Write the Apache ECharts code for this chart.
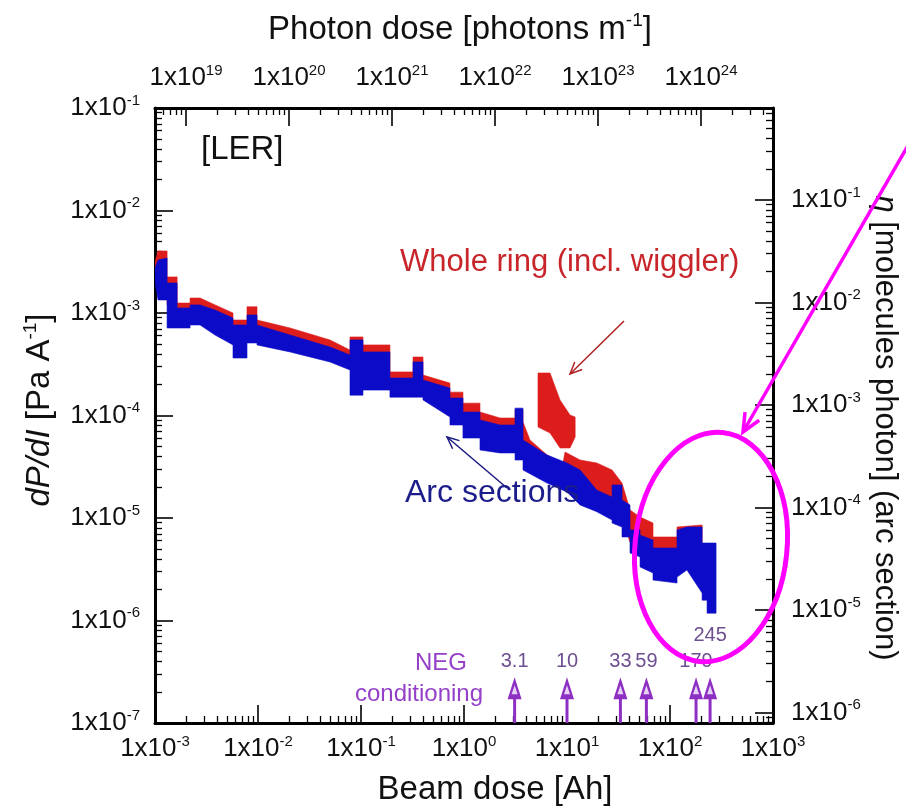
<!DOCTYPE html>
<html>
<head>
<meta charset="utf-8">
<script src="https://cdn.jsdelivr.net/npm/echarts@6/dist/echarts.min.js"></script>
<style>
  html, body { margin: 0; padding: 0; background: #fff; }
  #chart { width: 906px; height: 807px; }
</style>
</head>
<body>
<div id="chart"></div>
<script>
// Decade exponents that carry a tick label on each axis
const beamExp = [-3, -2, -1, 0, 1, 2, 3];
const photonExp = [19, 20, 21, 22, 23, 24];
const dpdiExp = [-7, -6, -5, -4, -3, -2, -1];
const etaExp = [-6, -5, -4, -3, -2, -1];

// Arc sections: beam dose [Ah] with upper / lower envelope of dP/dI [Pa/A]
const arcDose = [1.0e-3, 1.07e-3, 1.31e-3, 1.31e-3, 1.64e-3, 1.64e-3, 2.19e-3, 2.19e-3, 2.74e-3, 3.83e-3,
  5.72e-3, 5.72e-3, 7.82e-3, 7.82e-3, 9.78e-3, 9.78e-3, 0.0205, 0.050, 0.0782, 0.0782,
  0.1045, 0.1045, 0.191, 0.191, 0.320, 0.320, 0.400, 0.400, 0.731, 0.731,
  0.977, 0.977, 1.43, 1.43, 2.24, 3.13, 3.13, 3.74, 3.74, 6.40,
  10.0, 13.4, 19.5, 27.4, 27.4, 34.2, 34.2, 40.9, 40.9, 51.2,
  51.2, 68.4, 68.4, 117, 117, 146, 205, 205, 229, 229, 280];
const arcHigh = [2.75e-3, 3.29e-3, 3.44e-3, 1.96e-3, 1.96e-3, 1.12e-3, 1.12e-3, 1.20e-3, 1.20e-3, 1.07e-3,
  8.93e-4, 7.64e-4, 7.64e-4, 9.56e-4, 9.56e-4, 7.64e-4, 6.09e-4, 4.66e-4, 3.89e-4, 5.46e-4,
  5.46e-4, 4.17e-4, 4.17e-4, 2.32e-4, 2.32e-4, 3.33e-4, 3.33e-4, 2.22e-4, 1.85e-4, 1.48e-4,
  1.48e-4, 1.08e-4, 1.08e-4, 9.04e-5, 8.08e-5, 8.08e-5, 1.18e-4, 1.18e-4, 5.77e-5, 4.12e-5,
  3.44e-5, 2.94e-5, 1.87e-5, 1.60e-5, 2.10e-5, 2.10e-5, 1.50e-5, 1.34e-5, 7.64e-6, 7.64e-6,
  6.82e-6, 6.10e-6, 5.10e-6, 5.10e-6, 7.64e-6, 8.17e-6, 8.17e-6, 5.70e-6, 5.70e-6, 5.70e-6, 5.70e-6];
const arcLow = [2.01e-3, 1.34e-3, 1.34e-3, 7.14e-4, 7.14e-4, 7.14e-4, 7.14e-4, 7.64e-4, 7.64e-4, 6.09e-4,
  4.88e-4, 3.64e-4, 3.64e-4, 5.10e-4, 5.10e-4, 4.88e-4, 4.17e-4, 3.33e-4, 2.78e-4, 1.58e-4,
  1.58e-4, 1.77e-4, 1.77e-4, 1.51e-4, 1.51e-4, 1.51e-4, 1.51e-4, 1.42e-4, 9.66e-5, 8.08e-5,
  8.08e-5, 6.03e-5, 6.03e-5, 4.61e-5, 4.31e-5, 4.31e-5, 3.68e-5, 3.68e-5, 2.94e-5, 2.19e-5,
  1.79e-5, 1.34e-5, 1.15e-5, 9.56e-6, 8.93e-6, 8.17e-6, 6.53e-6, 6.53e-6, 4.56e-6, 4.17e-6,
  3.33e-6, 2.91e-6, 2.48e-6, 2.32e-6, 2.65e-6, 3.11e-6, 1.85e-6, 1.58e-6, 1.58e-6, 1.18e-6, 1.18e-6];

// Whole ring (incl. wiggler): main run (lower edge lies inside the arc band)
const ringDose = [1.0e-3, 1.07e-3, 1.31e-3, 1.31e-3, 1.64e-3, 1.64e-3, 2.19e-3, 2.19e-3, 2.74e-3, 3.83e-3,
  5.72e-3, 5.72e-3, 7.82e-3, 7.82e-3, 9.78e-3, 9.78e-3, 0.0205, 0.050, 0.0782, 0.0782,
  0.1045, 0.1045, 0.191, 0.191, 0.320, 0.320, 0.400, 0.400, 0.731, 0.731,
  0.977, 0.977, 1.43, 1.43, 2.24, 3.13, 3.13, 3.74, 3.74, 4.37,
  6.40, 9.14, 9.57, 13.4, 19.5, 27.4, 34.2, 40.9, 51.2, 68.4,
  68.4, 117, 117, 205];
const ringHigh = [3.15e-3, 4.03e-3, 4.03e-3, 2.25e-3, 2.25e-3, 1.25e-3, 1.25e-3, 1.40e-3, 1.40e-3, 1.20e-3,
  1.0e-3, 8.54e-4, 8.54e-4, 1.15e-3, 1.15e-3, 8.54e-4, 7.14e-4, 5.46e-4, 4.35e-4, 5.84e-4,
  5.84e-4, 4.88e-4, 4.88e-4, 2.66e-4, 2.66e-4, 3.72e-4, 3.72e-4, 2.48e-4, 2.07e-4, 1.69e-4,
  1.69e-4, 1.32e-4, 1.32e-4, 1.08e-4, 9.45e-5, 9.45e-5, 1.13e-4, 1.13e-4, 8.64e-5, 5.77e-5,
  4.12e-5, 3.44e-5, 4.40e-5, 3.68e-5, 3.44e-5, 2.94e-5, 2.19e-5, 1.20e-5, 1.02e-5, 8.93e-6,
  6.53e-6, 6.53e-6, 8.17e-6, 8.54e-6];
const ringLow = [2.3e-3, 2.0e-3, 2.0e-3, 1.2e-3, 1.2e-3, 9.0e-4, 9.0e-4, 9.5e-4, 9.5e-4, 8.0e-4,
  6.6e-4, 5.3e-4, 5.3e-4, 7.0e-4, 7.0e-4, 6.1e-4, 5.0e-4, 3.9e-4, 3.3e-4, 3.0e-4,
  3.0e-4, 2.7e-4, 2.7e-4, 1.9e-4, 1.9e-4, 2.2e-4, 2.2e-4, 1.8e-4, 1.3e-4, 1.1e-4,
  1.1e-4, 8.0e-5, 8.0e-5, 6.5e-5, 5.9e-5, 5.9e-5, 6.5e-5, 6.5e-5, 4.1e-5, 3.8e-5,
  3.0e-5, 2.6e-5, 2.5e-5, 2.0e-5, 1.45e-5, 1.2e-5, 1.0e-5, 5.8e-6, 4.7e-6, 3.6e-6,
  3.6e-6, 3.4e-6, 3.4e-6, 3.9e-6];

// Whole ring: isolated high-pressure run around 5-12 Ah
const ringPeakDose = [5.23, 6.84, 8.55, 10.7, 12.0];
const ringPeakHigh = [2.60e-4, 2.60e-4, 1.42e-4, 1.01e-4, 9.66e-5];
const ringPeakLow = [7.72e-5, 6.75e-5, 4.82e-5, 4.82e-5, 6.17e-5];

// NEG conditioning doses [Ah]
const negDose = [3.1, 10, 33, 59, 179, 245];
const negLabels = ['3.1', '10', '33', '59', '179', '245'];
const negLabelRow = [0, 0, 0, 0, 0, 1];

const FONT = "'Liberation Sans', Arial, Helvetica, sans-serif";
const RED = '#dd1c1c';
const BLUE = '#0b0bc8';
const NEG_COLOR = '#8e2fc4';
const ARROW_TIP = 2.8e-7;

const chart = echarts.init(document.getElementById('chart'), null, { renderer: 'canvas' });

function decadeLabel(exps) {
  return function (v) {
    const l = Math.log10(v);
    const e = Math.round(l);
    if (Math.abs(l - e) > 1e-3 || exps.indexOf(e) < 0) return '';
    return '{b|1x10}{s|' + e + '}';
  };
}

const labelRich = {
  b: { fontSize: 26, fontFamily: FONT, color: '#111', lineHeight: 30 },
  s: { fontSize: 15, fontFamily: FONT, color: '#111', verticalAlign: 'top', lineHeight: 15 }
};

function logAxis(extra) {
  return Object.assign({
    type: 'log',
    logBase: 10,
    gridIndex: 0,
    axisLine: { show: true, onZero: false, lineStyle: { color: '#000', width: 3 } },
    axisTick: { show: true, inside: true, length: 18, lineStyle: { color: '#000', width: 1.6 } },
    minorTick: { show: true, splitNumber: 9, length: 7, lineStyle: { color: '#000', width: 1.3 } },
    splitLine: { show: false },
    minorSplitLine: { show: false }
  }, extra);
}

// Filled envelope between an upper and a lower trace
function band(name, dose, high, low, color, z) {
  return {
    type: 'custom',
    name: name,
    xAxisIndex: 0,
    yAxisIndex: 0,
    z: z,
    clip: true,
    silent: true,
    data: dose.map(function (d, i) { return [d, high[i], low[i]]; }),
    renderItem: function (params, api) {
      if (params.dataIndexInside !== 0) return null;
      const pts = [];
      for (let i = 0; i < dose.length; i++) pts.push(api.coord([dose[i], high[i]]));
      for (let i = dose.length - 1; i >= 0; i--) pts.push(api.coord([dose[i], low[i]]));
      return { type: 'polygon', shape: { points: pts }, style: { fill: color, stroke: color, lineWidth: 0.6 } };
    }
  };
}

function arrowHead(tip, from, len, spread) {
  const dx = from[0] - tip[0], dy = from[1] - tip[1];
  const a = Math.atan2(dy, dx);
  return [
    [tip[0] + len * Math.cos(a + spread), tip[1] + len * Math.sin(a + spread)],
    tip,
    [tip[0] + len * Math.cos(a - spread), tip[1] + len * Math.sin(a - spread)]
  ];
}

function annotArrow(from, tip, color, width, headLen) {
  return [
    { type: 'line', z: 100, shape: { x1: from[0], y1: from[1], x2: tip[0], y2: tip[1] }, style: { stroke: color, lineWidth: width } },
    { type: 'polyline', z: 100, shape: { points: arrowHead(tip, from, headLen, 0.42) }, style: { stroke: color, lineWidth: width, fill: 'none' } }
  ];
}

const option = {
  animation: false,
  backgroundColor: '#ffffff',
  grid: { left: 155, top: 108, width: 618, height: 615, containLabel: false, outerBoundsMode: 'none' },
  xAxis: [
    logAxis({
      position: 'bottom', min: 1e-3, max: 1e3,
      axisLabel: { margin: 11, formatter: decadeLabel(beamExp), rich: labelRich }
    }),
    logAxis({
      position: 'top', min: 5e18, max: 5e24,
      axisLabel: { margin: 15, formatter: decadeLabel(photonExp), rich: labelRich }
    })
  ],
  yAxis: [
    logAxis({
      position: 'left', min: 1e-7, max: 1e-1,
      axisLabel: { margin: 15, formatter: decadeLabel(dpdiExp), rich: labelRich }
    }),
    logAxis({
      position: 'right', min: 7.9e-7, max: 0.79,
      axisLabel: { margin: 18, formatter: decadeLabel(etaExp), rich: labelRich }
    })
  ],
  series: [
    band('Whole ring (incl. wiggler)', ringDose, ringHigh, ringLow, RED, 2),
    band('Whole ring peak', ringPeakDose, ringPeakHigh, ringPeakLow, RED, 2),
    band('Arc sections', arcDose, arcHigh, arcLow, BLUE, 3),
    {
      type: 'custom',
      name: 'NEG conditioning',
      xAxisIndex: 0,
      yAxisIndex: 0,
      z: 10,
      clip: false,
      silent: true,
      data: negDose.map(function (d, i) { return [d, ARROW_TIP, i]; }),
      renderItem: function (params, api) {
        const i = api.value(2);
        const base = api.coord([api.value(0), 1e-7]);
        const tip = api.coord([api.value(0), api.value(1)]);
        const x = tip[0], y = tip[1];
        return {
          type: 'group',
          children: [
            { type: 'line', shape: { x1: base[0], y1: base[1], x2: x, y2: y + 14 }, style: { stroke: NEG_COLOR, lineWidth: 3 } },
            { type: 'polygon', shape: { points: [[x, y], [x - 7, y + 22], [x + 7, y + 22]] }, style: { fill: NEG_COLOR } },
            { type: 'polygon', shape: { points: [[x, y + 8], [x - 3, y + 17], [x + 3, y + 17]] }, style: { fill: '#e6d2f3' } },
            {
              type: 'text',
              style: {
                text: negLabels[i], x: x, y: y - (negLabelRow[i] ? 42 : 16),
                align: 'center', verticalAlign: 'middle',
                font: '20px ' + FONT, fill: '#6e4f91'
              }
            }
          ]
        };
      }
    }
  ],
  graphic: [
    // axis titles
    {
      type: 'text', z: 100, x: 460, y: 30,
      style: {
        text: '{t|Photon dose [photons m}{s|-1}{t|]}', align: 'center', verticalAlign: 'middle',
        rich: {
          t: { fontSize: 33, fontFamily: FONT, fill: '#111', lineHeight: 38 },
          s: { fontSize: 19, fontFamily: FONT, fill: '#111', verticalAlign: 'top', lineHeight: 19 }
        }
      }
    },
    {
      type: 'text', z: 100, x: 495, y: 790,
      style: { text: 'Beam dose [Ah]', align: 'center', verticalAlign: 'middle', font: '33px ' + FONT, fill: '#111' }
    },
    {
      type: 'text', z: 100, x: 40, y: 410, rotation: Math.PI / 2,
      style: {
        text: '{i|dP/dI}{t| [Pa A}{s|-1}{t|]}', align: 'center', verticalAlign: 'middle',
        rich: {
          i: { fontSize: 33, fontFamily: FONT, fontStyle: 'italic', fill: '#111', lineHeight: 38 },
          t: { fontSize: 33, fontFamily: FONT, fill: '#111', lineHeight: 38 },
          s: { fontSize: 19, fontFamily: FONT, fill: '#111', verticalAlign: 'top', lineHeight: 19 }
        }
      }
    },
    {
      type: 'text', z: 100, x: 885, y: 428, rotation: -Math.PI / 2,
      style: {
        text: '{i|\u03b7}{t| [molecules photon] (arc section)}', align: 'center', verticalAlign: 'middle',
        rich: {
          i: { fontSize: 31, fontFamily: FONT, fontStyle: 'italic', fill: '#111', lineHeight: 36 },
          t: { fontSize: 31, fontFamily: FONT, fill: '#111', lineHeight: 36 }
        }
      }
    },
    // in-plot annotations
    { type: 'text', z: 100, x: 201, y: 150, style: { text: '[LER]', align: 'left', verticalAlign: 'middle', font: '33px ' + FONT, fill: '#111' } },
    { type: 'text', z: 100, x: 400, y: 262, style: { text: 'Whole ring (incl. wiggler)', align: 'left', verticalAlign: 'middle', font: '31px ' + FONT, fill: '#c8252b' } },
    { type: 'text', z: 100, x: 405, y: 493, style: { text: 'Arc sections', align: 'left', verticalAlign: 'middle', font: '32px ' + FONT, fill: '#1c1c8a' } },
    { type: 'text', z: 100, x: 441, y: 663, style: { text: 'NEG', align: 'center', verticalAlign: 'middle', font: '24px ' + FONT, fill: '#9540c8' } },
    { type: 'text', z: 100, x: 419, y: 694, style: { text: 'conditioning', align: 'center', verticalAlign: 'middle', font: '24px ' + FONT, fill: '#9540c8' } },
    // highlighted region
    {
      type: 'ellipse', z: 100, x: 711, y: 547, rotation: -0.1,
      shape: { cx: 0, cy: 0, rx: 76, ry: 115 },
      style: { fill: 'none', stroke: '#ff00ff', lineWidth: 5 }
    }
  ]
    .concat(annotArrow([624, 321], [570, 374], '#b02020', 1.5, 13))
    .concat(annotArrow([507, 488], [447, 437], '#1a1a80', 1.5, 13))
    .concat(annotArrow([910, 142], [743, 432], '#ff00ff', 3.5, 20))
};

chart.setOption(option);
</script>
</body>
</html>
